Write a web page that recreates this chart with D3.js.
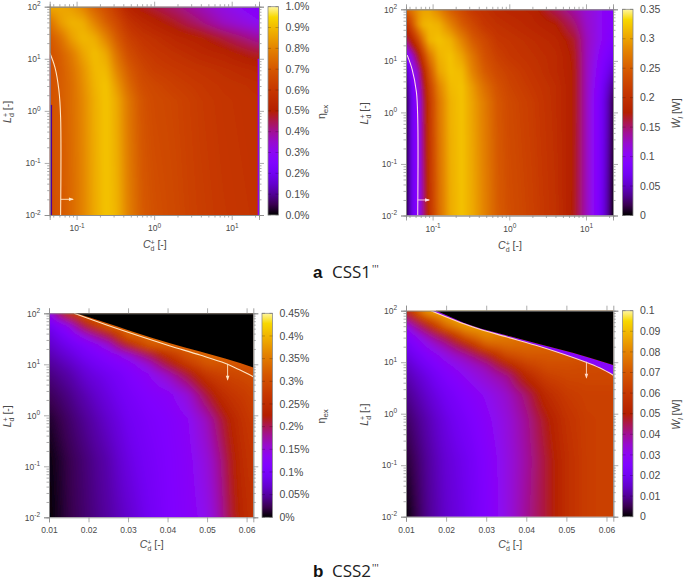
<!DOCTYPE html>
<html>
<head>
<meta charset="utf-8">
<script src="https://cdn.jsdelivr.net/npm/d3@7"></script>
<style>
  body { margin: 0; background: #fff; }
  text { font-family: "Liberation Sans", Arial, sans-serif; }
</style>
</head>
<body>
<svg id="chart" width="685" height="581"></svg>
<script>
// color palette, position in the bar -> color
const PAL_POS = [0, .05, .1, .15, .2, .25, .3, .35, .4, .45, .5, .6, .7, .8, .9, .95, 1];
const PAL_COL = ["#000000", "#39004f", "#510196", "#6301ce", "#7202f3", "#8004ff", "#8c07f3", "#970bce",
  "#a11096", "#ab174f", "#b42000", "#c63700", "#d55700", "#e48300", "#f2ba00", "#f8d800", "#fff6a0"];

// panel a: eta_ex [%]
const aC = [0.045, 0.062, 0.085, 0.12, 0.17, 0.24, 0.33, 0.47, 0.7, 1, 2, 4, 8, 22.5];
const aL = [100, 50, 25, 12.5, 6.3, 3.2, 1.6, 0.01];
const aVal = [
  [.87, .87, .85, .80, .72, .67, .60, .52, .48, .46, .42, .37, .32, .26],
  [.76, .85, .89, .88, .80, .72, .66, .58, .54, .515, .47, .42, .36, .30],
  [.70, .76, .85, .90, .88, .80, .71, .63, .59, .57, .53, .505, .46, .39],
  [.68, .72, .78, .86, .91, .87, .76, .67, .62, .60, .57, .54, .52, .47],
  [.68, .71, .76, .83, .90, .90, .80, .71, .65, .62, .60, .58, .56, .53],
  [.68, .71, .75, .82, .89, .92, .84, .74, .67, .65, .62, .60, .58, .56],
  [.68, .71, .75, .81, .88, .92, .87, .77, .69, .66, .64, .61, .59, .57],
  [.67, .70, .74, .80, .87, .92, .89, .79, .71, .68, .65, .62, .60, .58]
];
const aLineC = [0.0452, 0.0525, 0.0591, 0.0622, 0.0622];
const aLineL = [12.9, 6.9, 2.5, 0.76, 0.01];
const aStrips = [
  { c: [0.045, 0.0483], l: [0.01, 1.3], v: 0.1 },
  { c: [0.045, 0.0462], l: [1.3, 12], v: 0.3 },
  { c: [21.6, 22.5], l: [0.01, 10], v: 0.3 }
];

// panel b: W_l [W]
const bC = [0.045, 0.048, 0.052, 0.058, 0.065, 0.075, 0.09, 0.12, 0.17, 0.24, 0.33, 0.47, 0.7, 1, 2, 4, 7, 10, 14, 17, 20, 22.5];
const bL = [100, 50, 25, 12.5, 6.3, 3.2, 1.6, 0.01];
const bVal = [
  [.25, .26, .27, .28, .29, .30, .30, .28, .25, .23, .21, .20, .19, .185, .18, .155, .135, .12, .11, .10, .095, .09],
  [.20, .21, .23, .26, .29, .31, .315, .31, .28, .25, .23, .21, .20, .195, .185, .175, .15, .125, .11, .10, .095, .09],
  [.15, .16, .18, .20, .23, .27, .31, .32, .31, .28, .25, .23, .21, .205, .195, .185, .165, .13, .11, .10, .09, .085],
  [.09, .10, .115, .14, .17, .22, .27, .31, .32, .30, .27, .24, .22, .21, .20, .19, .17, .13, .105, .09, .08, .07],
  [.04, .06, .09, .11, .13, .18, .24, .30, .32, .315, .28, .25, .23, .22, .205, .19, .172, .13, .10, .08, .065, .05],
  [.02, .04, .07, .09, .115, .16, .22, .28, .315, .32, .295, .265, .24, .225, .21, .195, .172, .13, .095, .07, .05, .03],
  [.01, .03, .06, .085, .105, .15, .21, .27, .31, .32, .30, .275, .245, .23, .215, .195, .172, .13, .09, .065, .04, .015],
  [0, .03, .055, .08, .10, .14, .20, .26, .305, .32, .305, .28, .25, .235, .22, .20, .17, .13, .09, .06, .03, 0]
];
const bLineC = [0.0467, 0.054, 0.0615, 0.064, 0.064];
const bLineL = [12.9, 6.9, 2.5, 0.76, 0.01];

// panel c: eta_ex [%]
const cC = [.01, .015, .02, .025, .03, .035, .04, .045, .05, .053, .056, .059, .0617];
const cL = [100, 59, 37.5, 24, 15.2, 9.7, 6.2, 2.5, 0.8, 0.13, 0.01];
const cVal = [
  [.14, .27, .33, .33, .33, .33, .33, .33, .33, .33, .33, .33, .33],
  [.09, .14, .25, .33, .33, .33, .33, .33, .33, .33, .33, .33, .33],
  [.075, .11, .16, .22, .33, .33, .33, .33, .33, .33, .33, .33, .33],
  [.065, .09, .115, .15, .24, .32, .33, .33, .33, .33, .33, .33, .33],
  [.055, .075, .10, .12, .145, .20, .26, .31, .33, .33, .33, .33, .33],
  [.045, .062, .085, .105, .122, .15, .21, .27, .31, .31, .31, .31, .31],
  [.037, .052, .075, .09, .11, .13, .16, .21, .27, .285, .29, .295, .30],
  [.025, .04, .06, .08, .10, .115, .125, .15, .21, .245, .265, .275, .285],
  [.012, .03, .048, .068, .09, .105, .115, .13, .165, .20, .235, .26, .275],
  [.003, .022, .038, .055, .08, .098, .112, .125, .15, .18, .22, .25, .265],
  [0, .02, .035, .05, .068, .09, .11, .122, .14, .17, .21, .24, .26]
];
const cLineC = [.01633, .0246, .03557, .04063, .04823, .05456, .05835, .0617];
const cLineL = [100, 59, 30.6, 22.9, 15.2, 10.5, 7.7, 5.7];
const cEdgeC = [.01684, .0246, .03557, .04063, .04823, .05456, .05835, .0617];
const cEdgeL = [100, 64.6, 33.8, 25.8, 17.8, 13, 10.6, 8.7];

// panel d: W_l [W]
const dC = [.01, .015, .02, .025, .03, .035, .04, .045, .05, .055, .0617];
const dL = [100, 50, 31, 20.6, 13.2, 8.4, 5.4, 2.3, 0.75, 0.125, 0.01];
const dVal = [
  [.055, .085, .09, .09, .085, .085, .08, .08, .08, .08, .08],
  [.03, .05, .075, .085, .085, .08, .078, .076, .076, .076, .076],
  [.024, .035, .048, .07, .08, .078, .076, .075, .075, .075, .075],
  [.02, .03, .038, .05, .07, .074, .074, .073, .073, .073, .073],
  [.017, .025, .032, .038, .048, .065, .07, .07, .07, .069, .069],
  [.014, .021, .028, .033, .038, .05, .062, .067, .067, .066, .065],
  [.012, .018, .025, .03, .035, .04, .054, .063, .065, .065, .065],
  [.009, .015, .021, .026, .03, .035, .043, .055, .061, .063, .063],
  [.006, .012, .018, .023, .028, .033, .04, .049, .058, .062, .063],
  [.003, .010, .016, .02, .026, .032, .039, .047, .056, .062, .063],
  [0, .009, .015, .019, .025, .032, .04, .047, .056, .062, .063]
];
const dLineC = [.01623, .0267, .0352, .0434, .0546, .0584, .0617];
const dLineL = [100, 48.2, 30.8, 20.2, 10.2, 7.7, 5.6];
const dEdgeC = [.01748, .0267, .0352, .0434, .0516, .0617];
const dEdgeL = [100, 50.5, 33, 22.3, 15.3, 8.8];

// colorbar ticks
const etaTicksA = [0, .1, .2, .3, .4, .5, .6, .7, .8, .9, 1];
const wTicksB = [0, .05, .1, .15, .2, .25, .3, .35];
const etaTicksC = [0, .05, .1, .15, .2, .25, .3, .35, .4, .45];
const wTicksD = [0, .01, .02, .03, .04, .05, .06, .07, .08, .09, .1];

const logCTicks = [0.1, 1, 10];
const linCTicks = [.01, .02, .03, .04, .05, .06];
const logLTicks = [0.01, 0.1, 1, 10, 100];

const svg = d3.select("#chart");
const defs = svg.append("defs");
const palette = d3.scaleLinear().domain(PAL_POS).range(PAL_COL).clamp(true);
const GREY = "#8a8a8a";
const INK = "#4a4a4a";

function minorLog(lo, hi) {
  const out = [];
  for (let e = Math.floor(Math.log10(lo)); e < Math.ceil(Math.log10(hi)); e++) {
    for (let m = 2; m < 10; m++) {
      const v = m * Math.pow(10, e);
      if (v > lo && v < hi) out.push(v);
    }
  }
  return out;
}

function powerLabel(sel) {
  sel.each(function (d) {
    const t = d3.select(this).text(null);
    const e = Math.round(Math.log10(d));
    t.append("tspan").text("10");
    t.append("tspan").attr("dy", -3.5).attr("font-size", 6.5).text(e);
  });
}

function axisTitle(g, x, y, rotate, parts) {
  const t = g.append("text").attr("text-anchor", "middle").attr("fill", INK).attr("font-size", 10.5)
    .attr("transform", `translate(${x},${y})` + (rotate ? " rotate(-90)" : ""));
  parts.forEach((p) => {
    const s = t.append("tspan").text(p.t);
    if (p.dx) s.attr("dx", p.dx);
    if (p.dy) s.attr("dy", p.dy);
    if (p.size) s.attr("font-size", p.size);
    if (p.italic) s.attr("font-style", "italic");
  });
}

const dTitle = (letter) => [
  { t: letter, italic: true },
  { t: "+", dy: -3.5, size: 7 },
  { t: "d", dx: -4, dy: 6, size: 7 },
  { t: " [-]", dy: -2.5 }
];

// gnuplot style interpolated map: every pixel is looked up in the grid through the scales
function mapImage(p, x, y, color) {
  const bleed = 10;
  const scale = 2;
  const w = Math.ceil(p.right - p.left + 2 * bleed) * scale;
  const h = Math.ceil(p.bottom - p.top + 2 * bleed) * scale;
  const canvas = document.createElement("canvas");
  canvas.width = w;
  canvas.height = h;
  const ctx = canvas.getContext("2d");
  const img = ctx.createImageData(w, h);
  const xs = p.cols.map((c) => x(c));
  const ys = p.rows.map((l) => y(l));
  const locate = (arr, v) => {
    if (v <= arr[0]) return [0, 0];
    if (v >= arr[arr.length - 1]) return [arr.length - 2, 1];
    const i = d3.bisectRight(arr, v) - 1;
    return [i, (v - arr[i]) / (arr[i + 1] - arr[i])];
  };
  for (let py = 0; py < h; py++) {
    const [r, tr] = locate(ys, p.top - bleed + (py + 0.5) / scale);
    for (let px = 0; px < w; px++) {
      const [c, tc] = locate(xs, p.left - bleed + (px + 0.5) / scale);
      const top = p.vals[r][c] * (1 - tc) + p.vals[r][c + 1] * tc;
      const low = p.vals[r + 1][c] * (1 - tc) + p.vals[r + 1][c + 1] * tc;
      const rgb = d3.rgb(palette(color(top * (1 - tr) + low * tr)));
      const k = (py * w + px) * 4;
      img.data[k] = rgb.r;
      img.data[k + 1] = rgb.g;
      img.data[k + 2] = rgb.b;
      img.data[k + 3] = 255;
    }
  }
  ctx.putImageData(img, 0, 0);
  return { href: canvas.toDataURL(), x: p.left - bleed, y: p.top - bleed, w: w / scale, h: h / scale };
}

function drawPanel(p, id) {
  const x = p.logX
    ? d3.scaleLog().domain(p.xDomain).range([p.left, p.right])
    : d3.scaleLinear().domain(p.xDomain).range([p.left, p.right]);
  const y = d3.scaleLog().domain([0.01, 100]).range([p.bottom, p.top]);
  const color = d3.scaleLinear().domain([0, p.max]).range([0, 1]);
  const fill = (v) => palette(color(v));

  defs.append("clipPath").attr("id", "clip" + id).append("rect")
    .attr("x", p.left).attr("y", p.top)
    .attr("width", p.right - p.left).attr("height", p.bottom - p.top);
  defs.append("filter").attr("id", "blur" + id).attr("filterUnits", "userSpaceOnUse")
    .attr("x", p.left - 20).attr("y", p.top - 20)
    .attr("width", p.right - p.left + 40).attr("height", p.bottom - p.top + 40)
    .append("feGaussianBlur").attr("stdDeviation", p.blur);

  const g = svg.append("g");
  const clipped = g.append("g").attr("clip-path", `url(#clip${id})`);

  const im = mapImage(p, x, y, color);
  clipped.append("image").attr("href", im.href)
    .attr("x", im.x).attr("y", im.y).attr("width", im.w).attr("height", im.h)
    .attr("preserveAspectRatio", "none")
    .attr("filter", `url(#blur${id})`);

  (p.strips || []).forEach((s) => {
    clipped.append("rect")
      .attr("x", x(s.c[0])).attr("width", x(s.c[1]) - x(s.c[0]))
      .attr("y", y(s.l[1])).attr("height", y(s.l[0]) - y(s.l[1]))
      .attr("fill", fill(s.v));
  });

  // no-solution area and the thin band between it and the limit line
  if (p.edgeC) {
    const edgePts = p.edgeC.map((c, i) => [c, p.edgeL[i]]);
    if (p.bandValue) {
      const linePts = p.lineC.map((c, i) => [c, p.lineL[i]]).reverse();
      clipped.append("path")
        .attr("d", d3.line().x((d) => x(d[0])).y((d) => y(d[1]))(edgePts.concat(linePts)) + "Z")
        .attr("fill", fill(p.bandValue));
    }
    clipped.append("path")
      .attr("d", d3.area().x((d) => x(d[0])).y0(p.top - 2).y1((d) => y(d[1]))
        .curve(d3.curveMonotoneX)(edgePts))
      .attr("fill", "#000");
  }

  clipped.append("path")
    .attr("d", d3.line().x((d) => x(d[0])).y((d) => y(d[1])).curve(d3.curveCatmullRom)(
      p.lineC.map((c, i) => [c, p.lineL[i]])))
    .attr("fill", "none").attr("stroke", p.lineColor).attr("stroke-width", 1.1);

  // arrow
  const [ax0, ay0, ax1, ay1] = [x(p.arrow[0]), y(p.arrow[1]), x(p.arrow[2]), y(p.arrow[3])];
  g.append("line").attr("x1", ax0).attr("y1", ay0).attr("x2", ax1).attr("y2", ay1)
    .attr("stroke", p.lineColor).attr("stroke-width", 0.9);
  const horiz = Math.abs(ax1 - ax0) > Math.abs(ay1 - ay0);
  g.append("path")
    .attr("d", horiz
      ? `M${ax1 + 1},${ay1}L${ax1 - 4},${ay1 - 1.8}L${ax1 - 4},${ay1 + 1.8}Z`
      : `M${ax1},${ay1 + 1}L${ax1 - 1.8},${ay1 - 4}L${ax1 + 1.8},${ay1 - 4}Z`)
    .attr("fill", p.lineColor);

  // axes, ticks stick outwards on all four sides
  const styleAxis = (a) => {
    a.select(".domain").attr("stroke", GREY).attr("stroke-width", 0.8);
    a.selectAll(".tick line").attr("stroke", GREY).attr("stroke-width", 0.7);
    a.selectAll("text").attr("fill", INK).attr("font-size", 8.5)
      .style("font-family", '"Liberation Sans", Arial, sans-serif');
  };
  const addAxis = (axis, tx, ty) => {
    const a = g.append("g").attr("transform", `translate(${tx},${ty})`).call(axis);
    styleAxis(a);
    return a;
  };

  const xMajor = p.logX ? logCTicks : linCTicks;
  const xb = addAxis(d3.axisBottom(x).tickValues(xMajor).tickSize(5).tickPadding(5)
    .tickFormat(p.logX ? () => "" : d3.format(".2f")), 0, p.bottom);
  if (p.logX) xb.selectAll(".tick text").call(powerLabel);
  addAxis(d3.axisTop(x).tickValues(xMajor).tickSize(5).tickFormat(""), 0, p.top);
  if (p.logX) {
    const minors = minorLog(p.xDomain[0], p.xDomain[1]);
    addAxis(d3.axisBottom(x).tickValues(minors).tickSize(2.5).tickFormat(""), 0, p.bottom);
    addAxis(d3.axisTop(x).tickValues(minors).tickSize(2.5).tickFormat(""), 0, p.top);
  }
  const yl = addAxis(d3.axisLeft(y).tickValues(logLTicks).tickSize(5).tickPadding(4).tickFormat(() => ""), p.left, 0);
  yl.selectAll(".tick text").call(powerLabel);
  addAxis(d3.axisRight(y).tickValues(logLTicks).tickSize(5).tickFormat(""), p.right, 0);
  const yMinors = minorLog(0.01, 100);
  addAxis(d3.axisLeft(y).tickValues(yMinors).tickSize(2.5).tickFormat(""), p.left, 0);
  addAxis(d3.axisRight(y).tickValues(yMinors).tickSize(2.5).tickFormat(""), p.right, 0);

  // colorbar
  const barScale = d3.scaleLinear().domain([0, p.max]).range([p.bottom, p.top]);
  const gradId = "grad" + id;
  const grad = defs.append("linearGradient").attr("id", gradId)
    .attr("x1", 0).attr("y1", 1).attr("x2", 0).attr("y2", 0);
  PAL_POS.forEach((pos, i) => grad.append("stop").attr("offset", pos).attr("stop-color", PAL_COL[i]));
  g.append("rect").attr("x", p.barX).attr("y", p.top).attr("width", p.barW).attr("height", p.bottom - p.top)
    .attr("fill", `url(#${gradId})`).attr("stroke", GREY).attr("stroke-width", 0.8);
  const bar = g.append("g");
  p.barTicks.forEach((t) => {
    [[p.barX, p.barX + 3], [p.barX + p.barW - 3, p.barX + p.barW]].forEach((seg) => {
      bar.append("line").attr("x1", seg[0]).attr("x2", seg[1])
        .attr("y1", barScale(t)).attr("y2", barScale(t))
        .attr("stroke", "#000").attr("stroke-opacity", 0.3).attr("stroke-width", 0.7);
    });
  });
  bar.selectAll("text").data(p.barTicks).join("text")
    .attr("x", p.barX + p.barW + p.barPad)
    .attr("y", (d) => barScale(d) + 3.6)
    .attr("fill", INK).attr("font-size", 10.5)
    .text(p.barFormat);

  // titles
  axisTitle(g, (p.left + p.right) / 2 + 0.5, p.xTitleY, false, dTitle("C"));
  axisTitle(g, p.yTitleX, (p.top + p.bottom) / 2 + 1, true, dTitle("L"));
  if (p.isEta) {
    axisTitle(g, p.barTitleX, (p.top + p.bottom) / 2 + 1, true, [
      { t: "η" }, { t: "ex", dy: 2.5, size: 8 }
    ]);
  } else {
    axisTitle(g, p.barTitleX, (p.top + p.bottom) / 2 + 1, true, [
      { t: "Ẇ", italic: true }, { t: "l", dy: 2.5, size: 7, italic: true }, { t: " [W]", dy: -2.5 }
    ]);
  }
}

const pct = (d) => d + "%";
const panels = [
  {
    logX: true, xDomain: [0.045, 22.5], left: 49.7, right: 259, top: 6.7, bottom: 215,
    cols: aC, rows: aL, vals: aVal, max: 1, blur: 2.5, strips: aStrips,
    lineC: aLineC, lineL: aLineL, lineColor: "#ffe6c4", arrow: [0.0622, 0.02, 0.0897, 0.02],
    barX: 268, barW: 10.5, barPad: 7, barTicks: etaTicksA, barFormat: (d) => d.toFixed(1) + "%",
    xTitleY: 248, yTitleX: 11, barTitleX: 325, isEta: true
  },
  {
    logX: true, xDomain: [0.045, 22.5], left: 406, right: 613, top: 9.3, bottom: 215.5,
    cols: bC, rows: bL, vals: bVal, max: 0.35, blur: 1.5,
    lineC: bLineC, lineL: bLineL, lineColor: "#ffd8e6", arrow: [0.064, 0.02, 0.09, 0.02],
    barX: 622.5, barW: 10.5, barPad: 7, barTicks: wTicksB, barFormat: (d) => d,
    xTitleY: 249, yTitleX: 368, barTitleX: 680, isEta: false
  },
  {
    logX: false, xDomain: [0.01, 0.0617], left: 49, right: 253.3, top: 313.3, bottom: 517.3,
    cols: cC, rows: cL, vals: cVal, max: 0.45, blur: 3.5,
    lineC: cLineC, lineL: cLineL, edgeC: cEdgeC, edgeL: cEdgeL, lineColor: "#ffe6c4",
    arrow: [0.0552, 10.2, 0.0552, 5],
    barX: 262, barW: 10.5, barPad: 7, barTicks: etaTicksC, barFormat: pct,
    xTitleY: 548, yTitleX: 11, barTitleX: 325, isEta: true
  },
  {
    logX: false, xDomain: [0.01, 0.0617], left: 406, right: 613.3, top: 310.7, bottom: 516.7,
    cols: dC, rows: dL, vals: dVal, max: 0.1, blur: 3.5,
    lineC: dLineC, lineL: dLineL, edgeC: dEdgeC, edgeL: dEdgeL, bandValue: 0.028, lineColor: "#ffd8c8",
    arrow: [0.055, 10.2, 0.055, 5],
    barX: 622.5, barW: 10.5, barPad: 7, barTicks: wTicksD, barFormat: (d) => d,
    xTitleY: 548, yTitleX: 368, barTitleX: 680, isEta: false
  }
];
panels.forEach(drawPanel);

// captions
[["a", "CSS1", 278], ["b", "CSS2", 577]].forEach(([k, name, yy]) => {
  svg.append("text").attr("x", 313).attr("y", yy).attr("font-size", 17).attr("font-weight", "bold")
    .attr("fill", "#111").text(k);
  const t = svg.append("text").attr("x", 332).attr("y", yy).attr("font-size", 17).attr("fill", "#222")
    .style("font-family", '"Open Sans", sans-serif');
  t.append("tspan").text(name);
  t.append("tspan").attr("font-size", 10).attr("dx", 1).attr("dy", -5).text("'''");
});
</script>
</body>
</html>
